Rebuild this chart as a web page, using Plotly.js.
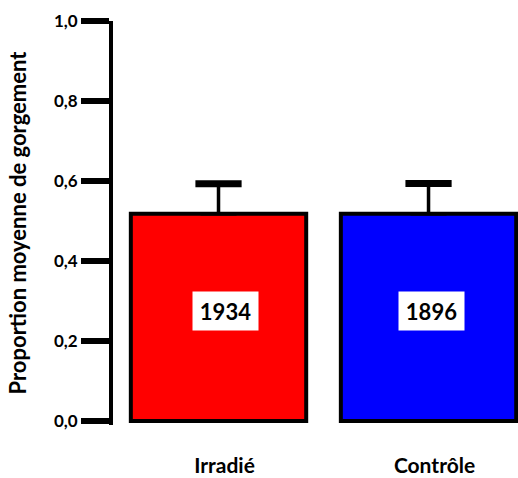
<!DOCTYPE html>
<html>
<head>
<meta charset="utf-8">
<script src="https://cdn.plot.ly/plotly-3.0.1.min.js"></script>
<style>html,body{margin:0;padding:0;background:#fff;}#chart{width:518px;height:478px;}</style>
</head>
<body>
<div id="chart"></div>
<script>
var categories = ['Irradié', 'Contrôle'];
var means = [0.518, 0.518];
var errors = [0.075, 0.076];
var counts = ['1934', '1896'];
var barColors = ['#ff0000', '#0000ff'];
var yTicks = [0, 0.2, 0.4, 0.6, 0.8, 1.0];

var FONT = 'Lato';

var bars = {
  type: 'bar',
  x: categories,
  y: means,
  width: 0.835,
  marker: { color: barColors, line: { color: '#000', width: 4 } },
  error_y: {
    type: 'data', symmetric: false, array: errors,
    arrayminus: errors.map(function(){return 0;}),
    color: '#000', thickness: 3.5, width: 18, visible: true
  },
  hoverinfo: 'none'
};

// thicker error-bar caps, at mean + error
var caps = {
  type: 'scatter', mode: 'markers',
  x: categories,
  y: means.map(function(m, i){ return m + errors[i]; }),
  marker: { symbol: 'line-ew', size: 33, line: { color: '#000', width: 7 } },
  hoverinfo: 'none', cliponaxis: false
};

var shifts = [7, 3];
var annotations = categories.map(function(c, i) {
  return {
    x: c, y: 0.275, xref: 'x', yref: 'y', xshift: shifts[i],
    text: counts[i], showarrow: false,
    font: { family: FONT, size: 22, color: '#000', weight: 'bold' },
    bgcolor: '#fff', borderpad: 6, width: 53, height: 26
  };
});

var layout = {
  width: 518, height: 478,
  margin: { l: 113, r: 0, t: 21, b: 53 },
  paper_bgcolor: '#fff', plot_bgcolor: '#fff',
  separators: ',.',
  showlegend: false,
  xaxis: {
    range: [-0.5024, 1.426],
    showline: false, zeroline: false, showgrid: false, ticks: '',
    tickfont: { family: FONT, size: 21, color: '#000', weight: 'bold' },
    ticklabelstandoff: 26, ticklabelshift: 6
  },
  yaxis: {
    range: [-0.01, 1.0],
    tickvals: yTicks, tickformat: '.1f',
    showline: true, linewidth: 4, linecolor: '#000',
    ticks: 'outside', ticklen: 28, tickwidth: 6, tickcolor: '#000',
    zeroline: false, showgrid: false,
    tickfont: { family: FONT, size: 17, color: '#000', weight: 'bold' },
    title: { text: 'Proportion moyenne de gorgement', standoff: 22,
      font: { family: FONT, size: 22, color: '#000', weight: 'bold' } }
  },
  annotations: annotations
};

Plotly.newPlot('chart', [bars, caps], layout, { displayModeBar: false, staticPlot: true });
</script>
</body>
</html>
